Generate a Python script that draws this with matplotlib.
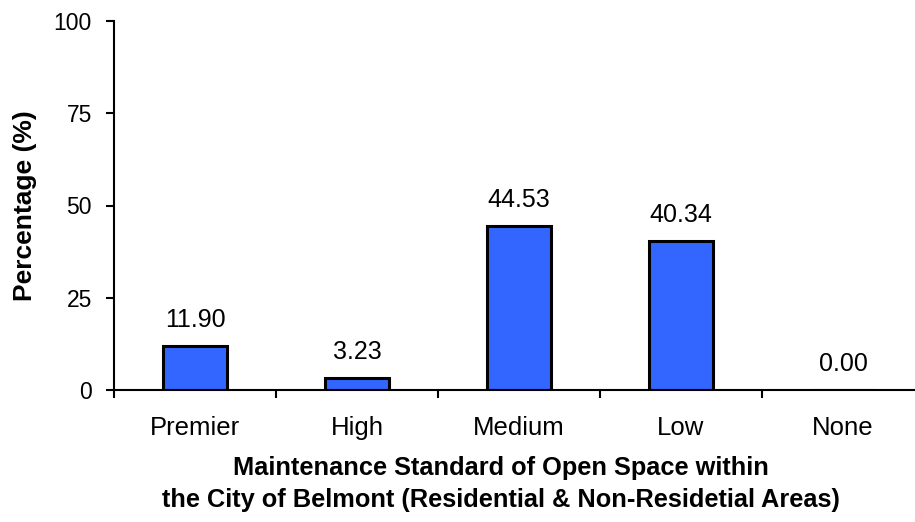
import numpy as np
import matplotlib.pyplot as plt

# Data
categories = ['Premier', 'High', 'Medium', 'Low', 'None']
values = [11.90, 3.23, 44.53, 40.34, 0.00]

plt.rcParams['font.family'] = ['Liberation Sans', 'DejaVu Sans']

fig = plt.figure(figsize=(9.15, 5.22), dpi=100)
ax = fig.add_axes([114 / 915, 132 / 522, 810 / 915, 369 / 522])

x = np.arange(len(categories))
bars = ax.bar(x, values, width=0.4, color='#3366FF', edgecolor='black', linewidth=2.2)
for xi, v in zip(x, values):
    ax.annotate(f'{v:.2f}', (xi, v), xytext=(0, 10), textcoords='offset points',
                ha='center', va='bottom', fontsize=18)

ax.set_xlim(-0.5, len(categories) - 0.5)
ax.set_ylim(0, 100)
ax.set_yticks([0, 25, 50, 75, 100])
ax.set_xticks(np.arange(-0.5, len(categories)))
ax.set_xticklabels([])
ax.set_xticks(x, minor=True)
ax.set_xticklabels(categories, minor=True)
ax.tick_params(axis='x', which='minor', length=0, pad=19, labelsize=18.5)
ax.tick_params(axis='x', which='major', length=6, width=1.5)
ax.tick_params(axis='y', length=6, width=1.5, labelsize=16.5, pad=10)

for s in ['top', 'right']:
    ax.spines[s].set_visible(False)
ax.spines['left'].set_linewidth(1.5)
ax.spines['bottom'].set_linewidth(1.5)

ax.set_ylabel('Percentage (%)', fontsize=19, fontweight='bold', labelpad=12)
fig.text(0.548, 1 - 468 / 522, 'Maintenance Standard of Open Space within',
         ha='center', va='center', fontsize=18.3, fontweight='bold')
fig.text(0.548, 1 - 500 / 522, 'the City of Belmont (Residential & Non-Residetial Areas)',
         ha='center', va='center', fontsize=18.3, fontweight='bold')

fig.savefig('out.png', dpi=100)
